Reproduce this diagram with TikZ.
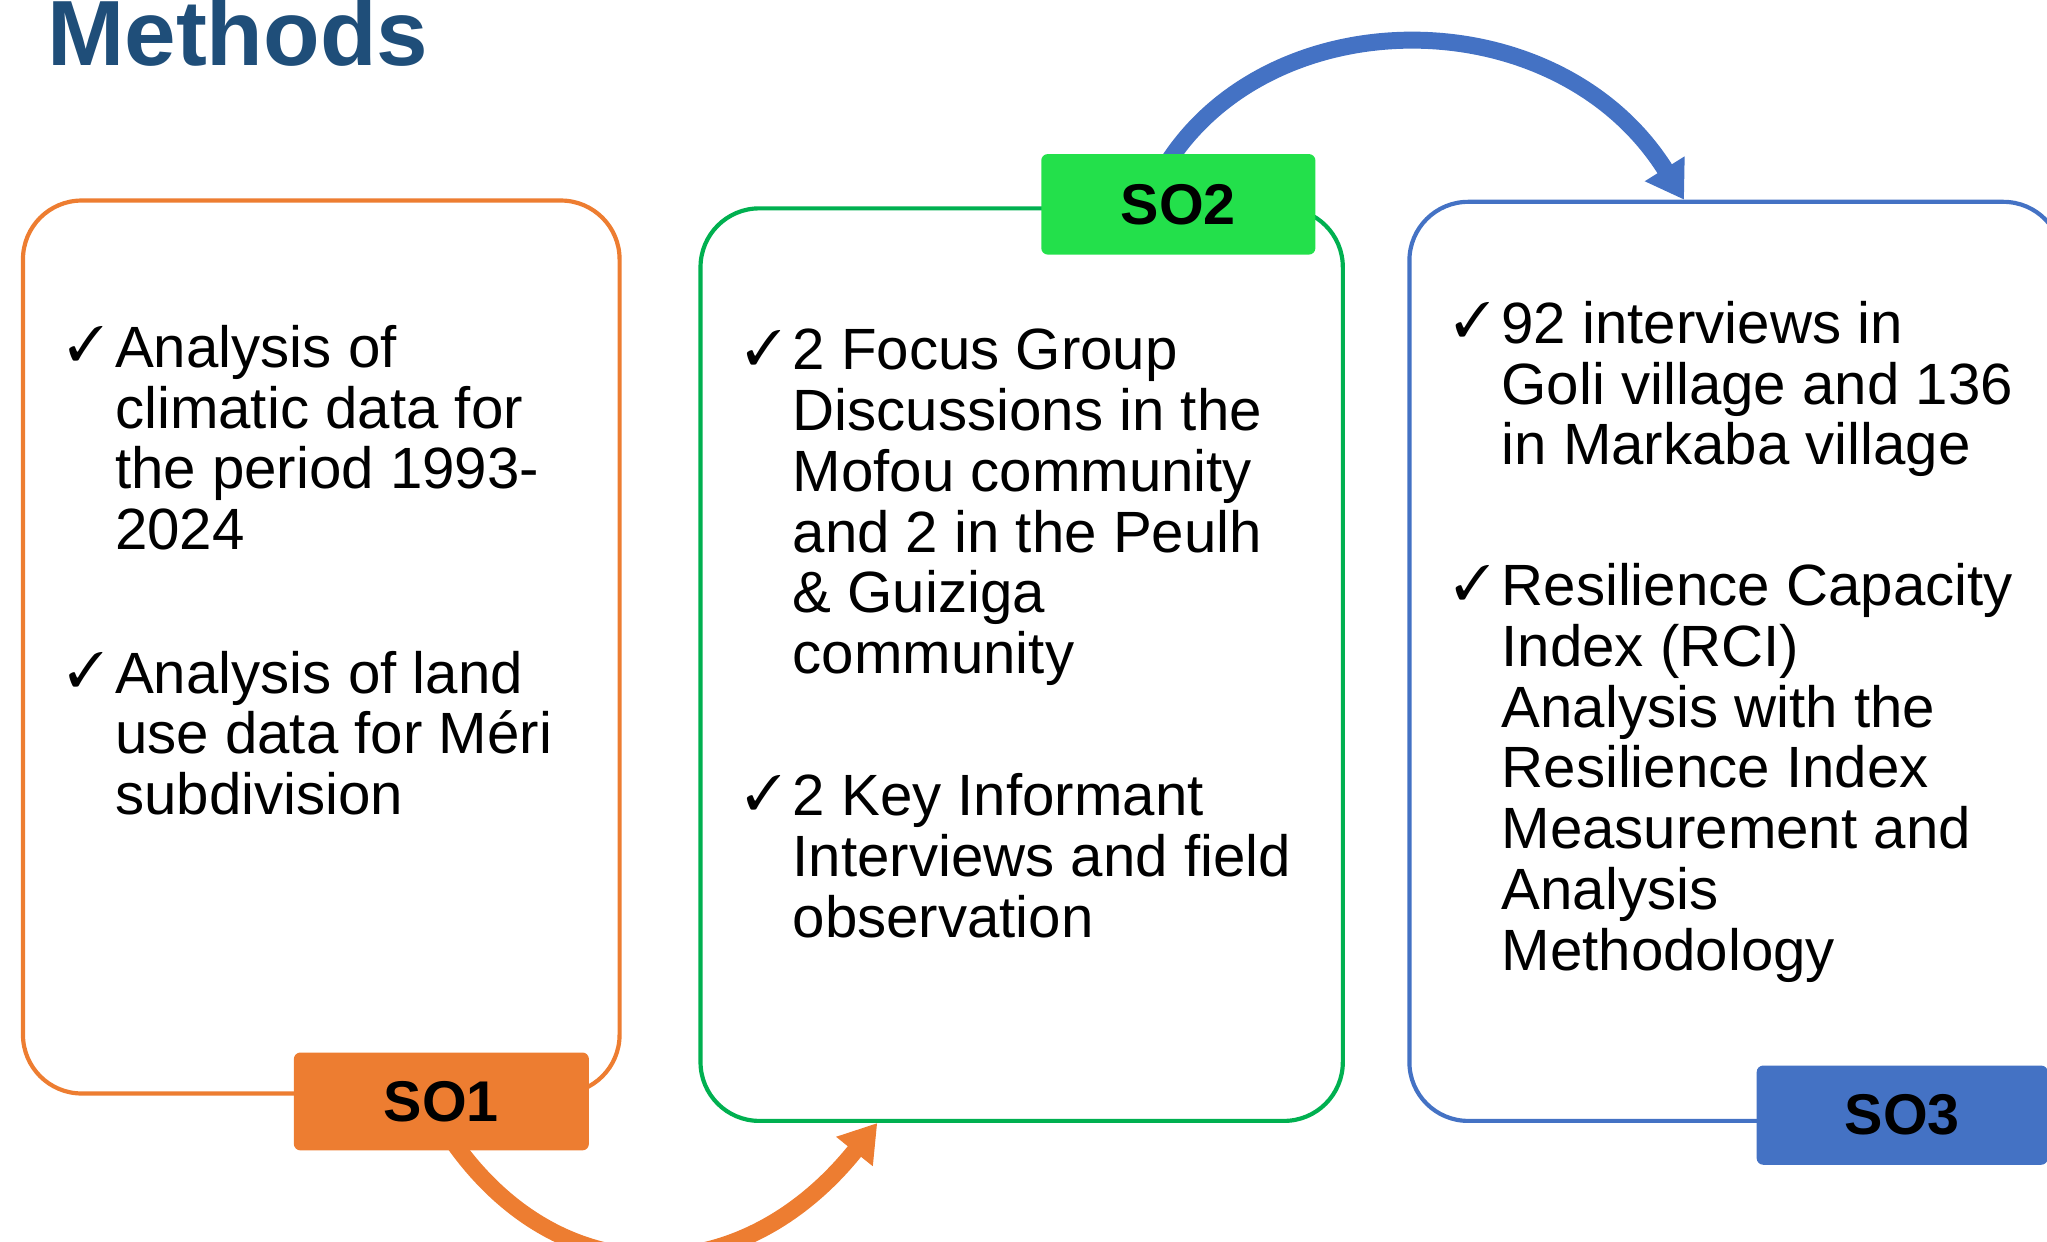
\documentclass[tikz,border=0pt]{standalone}
\usepackage{fontspec}
\setmainfont{Liberation Sans}
\newfontfamily\headfont{Liberation Sans}
\usepackage{pifont}
\usetikzlibrary{positioning,calc,arrows.meta,backgrounds}
\definecolor{soorange}{HTML}{ED7D31}
\definecolor{sogreen}{HTML}{00B050}
\definecolor{solime}{HTML}{23E04B}
\definecolor{soblue}{HTML}{4472C4}
\definecolor{titleblue}{HTML}{1F4E79}
\newcommand{\itemfont}{\fontsize{44.6}{46.5}\selectfont\lineskiplimit=-100pt\relax}
\tikzset{
  objbox/.style={draw, line width=3.2pt, rounded corners=45pt, anchor=north west, inner sep=0},
  solabel/.style={rounded corners=5pt, inner sep=0, font=\headfont\bfseries\fontsize{44}{50}\selectfont},
  itemtext/.style={anchor=north west, align=left, inner sep=0, font=\itemfont},
  tick/.style={anchor=north east, inner sep=0, xshift=-8pt, yshift=-1pt, font=\fontsize{37}{37}\selectfont},
  flow/.style={line width=13pt, -{Triangle[width=34pt,length=28pt]}}
}
\begin{document}
\begin{tikzpicture}[x=1pt, y=-1pt]
    \useasboundingbox (0,0) rectangle (1568,951);
    \node[anchor=base west, inner sep=0, text=titleblue, font=\headfont\bfseries\fontsize{71}{71}\selectfont] (title) at (36,50) {Methods};

    \node[objbox, draw=soorange, minimum width=457pt, minimum height=684pt] (box1) at (16,152) {};
    \node[objbox, draw=sogreen, minimum width=492pt, minimum height=699pt] (box2) at (535,158) {};
    \node[objbox, draw=soblue, minimum width=500pt, minimum height=704pt] (box3) at (1078,153) {};

    \node[itemtext] (i11) at (88,249) {Analysis of\\climatic data for\\the period 1993-\\2024};
    \node[itemtext] (i12) at (88,498.5) {Analysis of land\\use data for M\'eri\\subdivision};
    \node[itemtext] (i21) at (607,252) {2 Focus Group\\Discussions in the\\Mofou community\\and 2 in the Peulh\\\& Guiziga\\community};
    \node[itemtext] (i22) at (607,592.5) {2 Key Informant\\Interviews and field\\observation};
    \node[itemtext] (i31) at (1150,230.5) {92 interviews in\\Goli village and 136\\in Markaba village};
    \node[itemtext] (i32) at (1150,431.5) {Resilience Capacity\\Index (RCI)\\Analysis with the\\Resilience Index\\Measurement and\\Analysis\\Methodology};

    \foreach \i in {i11,i12,i21,i22,i31,i32}
        \node[tick] (t-\i) at (\i.north west) {\ding{51}};

    \node[solabel, fill=soorange, minimum width=226pt, minimum height=75pt] (so1) at ([xshift=92pt,yshift=-4.5pt]box1.south) {SO1};
    \node[solabel, fill=solime, minimum width=210pt, minimum height=77pt] (so2) at ([xshift=120pt,yshift=1.5pt]box2.north) {SO2};
    \node[solabel, fill=soblue, minimum width=223pt, minimum height=76pt] (so3) at ([xshift=127.5pt,yshift=6pt]box3.south) {SO3};

    \begin{scope}[on background layer]
        \draw[flow, soorange] ($(so1.south west)+(120,-10)$) .. controls +(82,120) and +(-105,131) .. ($(box2.south west)+(137,0)$);
        \draw[flow, soblue] ($(so2.north west)+(95,10)$) .. controls +(80,-130) and +(-97,-155) .. ($(box3.north west)+(212,0)$);
    \end{scope}
\end{tikzpicture}
\end{document}
